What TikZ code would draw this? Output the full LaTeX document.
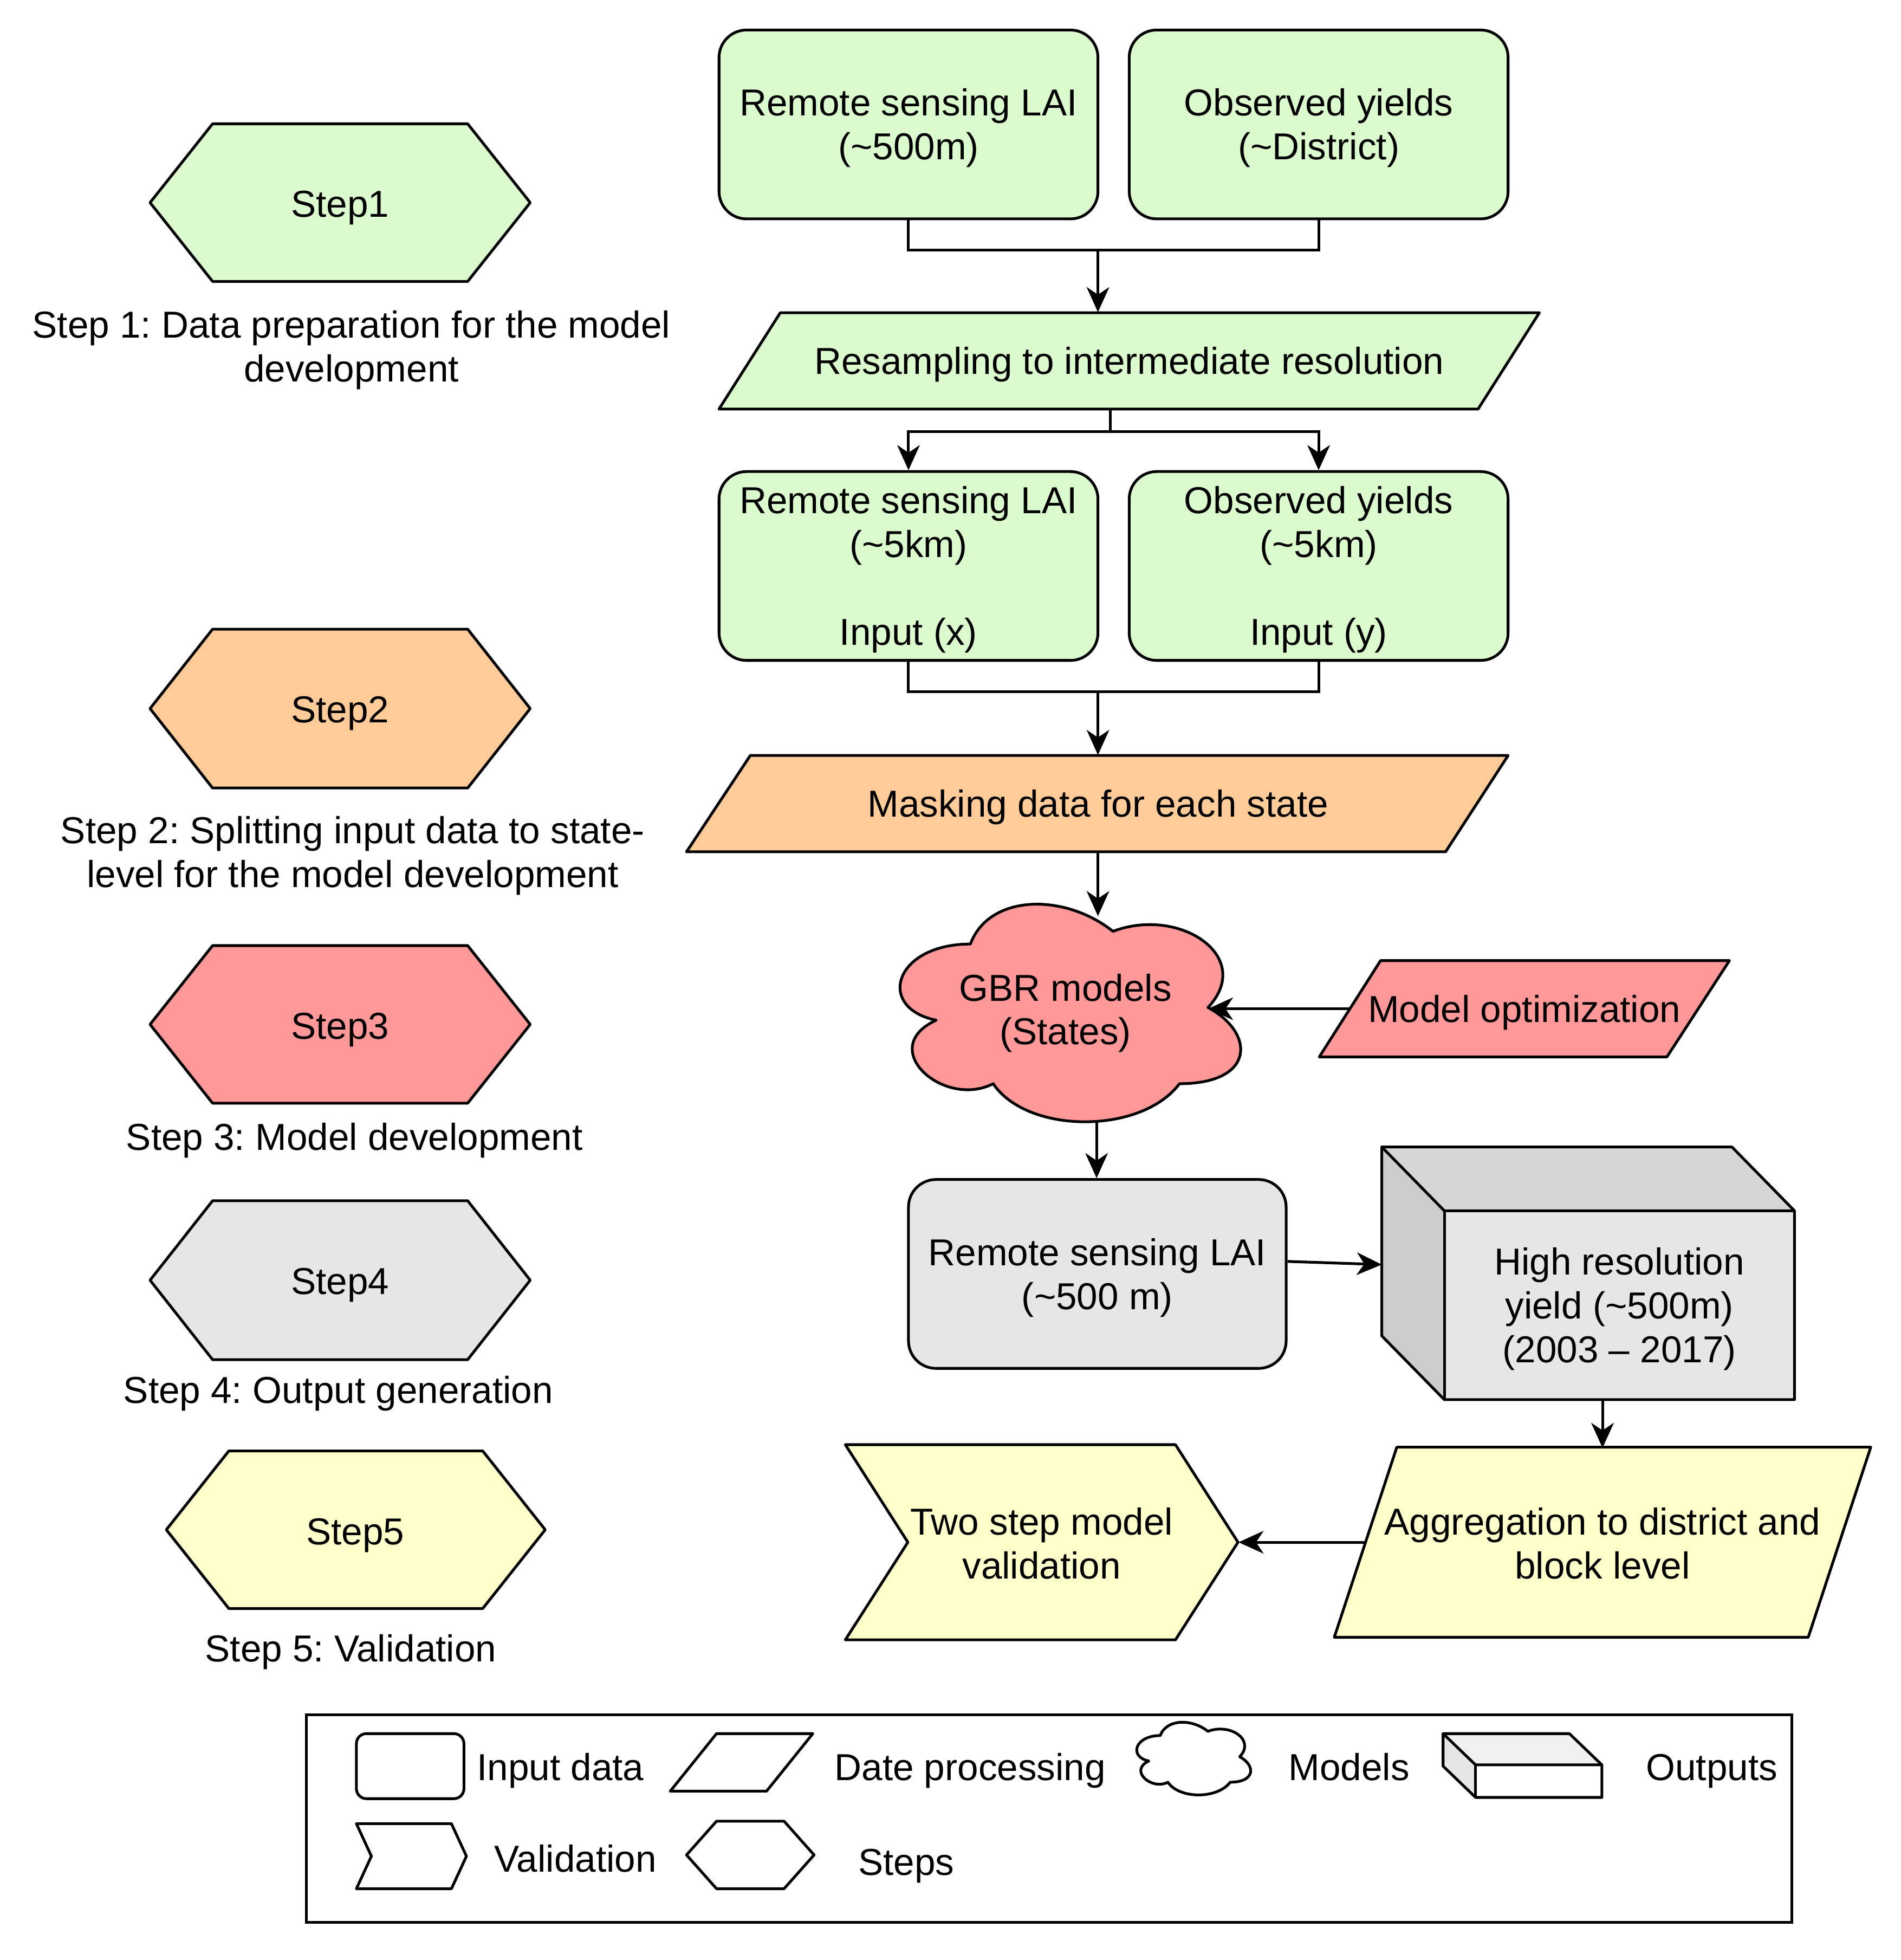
\documentclass[tikz,border=0pt]{standalone}
\usepackage{fontspec}
\setmainfont{Liberation Sans}
\usetikzlibrary{arrows.meta,calc}
\definecolor{cgreen}{HTML}{DBFACE}
\definecolor{corange}{HTML}{FFCC99}
\definecolor{cred}{HTML}{FF9999}
\definecolor{cgrey}{HTML}{E6E6E6}
\definecolor{cyellow}{HTML}{FFFFCC}
\definecolor{ctop}{HTML}{D6D6D6}
\definecolor{cside}{HTML}{CCCCCC}
\definecolor{ltop}{HTML}{F0F0F0}
\definecolor{lside}{HTML}{E6E6E6}
\newcommand{\tstrut}{\rule{0pt}{13.9pt}}
\begin{document}
\begin{tikzpicture}[x=0.5pt,y=-0.5pt,
  font=\fontsize{15}{17.5}\selectfont\frenchspacing,
  every node/.style={execute at begin node={\rule{0pt}{13.9pt}}, execute at end node={\rule[-3.2pt]{0pt}{3.2pt}}},
  shp/.style={draw=black, line width=1.1pt, line join=round},
  inbox/.style={draw=black, line width=1.1pt, rounded corners=11pt, minimum width=151.5pt, minimum height=75.5pt, align=center, inner sep=0pt},
  lbl/.style={align=center, inner sep=0pt},
  arr/.style={-{Stealth[length=10pt,width=9pt,inset=3pt]}, line width=1.1pt},
  ln/.style={line width=1.1pt},
]
\useasboundingbox (0,0) rectangle (1520,1567);
\fill[white] (0,0) rectangle (1520,1567);

% ---------- Step hexagons ----------
\draw[shp, fill=cgreen] (120,162) -- (170,99) -- (374,99) -- (424,162) -- (374,225) -- (170,225) -- cycle;
\node[lbl] (s1) at (272,163) {Step1};
\node[lbl] (l1) at (281,277) {\tstrut Step 1: Data preparation for the model\\development};

\draw[shp, fill=corange] (120,566.5) -- (170,503) -- (374,503) -- (424,566.5) -- (374,630) -- (170,630) -- cycle;
\node[lbl] (s2) at (272,567) {Step2};
\node[lbl] (l2) at (282,681) {\tstrut Step 2: Splitting input data to state-\\level for the model development};

\draw[shp, fill=cred] (120,819) -- (170,756) -- (374,756) -- (424,819) -- (374,882) -- (170,882) -- cycle;
\node[lbl] (s3) at (272,820) {Step3};
\node[lbl] (l3) at (283.5,909) {Step 3: Model development};

\draw[shp, fill=cgrey] (120,1023.5) -- (170,960) -- (374,960) -- (424,1023.5) -- (374,1087) -- (170,1087) -- cycle;
\node[lbl] (s4) at (272,1024) {Step4};
\node[lbl] (l4) at (270.5,1111) {Step 4: Output generation};

\draw[shp, fill=cyellow] (133,1223) -- (183,1160) -- (386,1160) -- (436,1223) -- (386,1286) -- (183,1286) -- cycle;
\node[lbl] (s5) at (284,1224) {Step5};
\node[lbl] (l5) at (280.5,1318) {Step 5: Validation};

% ---------- Flow ----------
\node[inbox, fill=cgreen] (lai1) at (726.5,99.5) {\tstrut Remote sensing LAI\\(\textasciitilde500m)};
\node[inbox, fill=cgreen] (obs1) at (1054.5,99.5) {\tstrut Observed yields\\(\textasciitilde District)};

\draw[shp, fill=cgreen] (575,327) -- (624,250) -- (1231,250) -- (1182,327) -- cycle;
\node[lbl, minimum width=328pt, minimum height=38.5pt] (resamp) at (903,288.5) {Resampling to intermediate resolution};

\node[inbox, fill=cgreen] (lai2) at (726.5,452.5) {\tstrut Remote sensing LAI\\(\textasciitilde5km)\\\mbox{}\\Input (x)};
\node[inbox, fill=cgreen] (obs2) at (1054.5,452.5) {\tstrut Observed yields\\(\textasciitilde5km)\\\mbox{}\\Input (y)};

\draw[shp, fill=corange] (549,681) -- (600,604) -- (1206,604) -- (1156,681) -- cycle;
\node[lbl, minimum width=328pt, minimum height=38.5pt] (mask) at (878,642.5) {Masking data for each state};

\begin{scope}[xshift=350pt, yshift=-352pt, x=152pt, y=-101.5pt]
\draw[shp, fill=cred] (0.25,0.25) .. controls (0.05,0.25) and (0,0.5) .. (0.16,0.55)
  .. controls (0,0.66) and (0.18,0.9) .. (0.31,0.8)
  .. controls (0.4,1) and (0.7,1) .. (0.8,0.8)
  .. controls (1,0.8) and (1,0.6) .. (0.875,0.5)
  .. controls (1,0.3) and (0.8,0.1) .. (0.625,0.2)
  .. controls (0.5,0.05) and (0.3,0.05) .. (0.25,0.25) -- cycle;
\coordinate (gbrtop) at (0.582,0.14);
\coordinate (gbrR) at (0.875,0.5);
\coordinate (gbrbot) at (0.582,0.948);
\end{scope}
\node[lbl] (gbr) at (852,807) {\tstrut GBR models\\(States)};

\draw[shp, fill=cred] (1055,845) -- (1104,768) -- (1383,768) -- (1333,845) -- cycle;
\node[lbl, minimum width=164pt, minimum height=38.5pt] (opt) at (1219,806.5) {Model optimization};
\coordinate (optL) at (1080,806.5);

\node[inbox, fill=cgrey, minimum width=151pt] (lai3) at (877.5,1018.5) {\tstrut Remote sensing LAI\\(\textasciitilde500 m)};

% cube
\fill[cgrey] (1155,968) rectangle (1435,1119);
\fill[ctop] (1105,917) -- (1385,917) -- (1435,968) -- (1155,968) -- cycle;
\fill[cside] (1105,917) -- (1155,968) -- (1155,1119) -- (1105,1068) -- cycle;
\draw[shp] (1105,917) -- (1385,917) -- (1435,968) -- (1435,1119) -- (1155,1119) -- (1105,1068) -- cycle;
\draw[shp] (1105,917) -- (1155,968) -- (1435,968);
\draw[shp] (1155,968) -- (1155,1119);
\node[lbl, minimum width=140pt, minimum height=75.5pt] (cube) at (1295,1043.5) {\tstrut High resolution\\yield (\textasciitilde500m)\\(2003 – 2017)};
\coordinate (cubeL) at (1105,1011);

\draw[shp, fill=cyellow] (1067,1309) -- (1117,1157) -- (1496,1157) -- (1446,1309) -- cycle;
\node[lbl, minimum width=214.5pt, minimum height=76pt] (agg) at (1281.5,1234) {\tstrut Aggregation to district and\\block level};
\coordinate (aggL) at (1092,1233);

\draw[shp, fill=cyellow] (676,1155) -- (940,1155) -- (990,1233) -- (940,1311) -- (676,1311) -- (726,1233) -- cycle;
\node[lbl, minimum width=157pt, minimum height=78pt] (val) at (833,1234) {\tstrut Two step model\\validation};

% ---------- Connectors ----------
\coordinate (j1) at (878,200);
\draw[ln] (lai1.south) |- (j1) -| (obs1.south);
\draw[arr] (j1) -- (j1 |- resamp.north);

\coordinate (j2) at (888,345);
\draw[ln] (j2 |- resamp.south) -- (j2);
\draw[arr] (j2) -| (lai2.north);
\draw[arr] (j2) -| (obs2.north);

\coordinate (j3) at (878,553);
\draw[ln] (lai2.south) |- (j3) -| (obs2.south);
\draw[arr] (j3) -- (j3 |- mask.north);

\draw[arr] (mask.south) -- (mask.south |- gbrtop);
\draw[arr] (optL) -- (optL -| gbrR);
\draw[arr] (gbrbot) -- (gbrbot |- lai3.north);
\draw[arr] ([yshift=5pt]lai3.east) -- (cubeL);
\draw[arr] (agg.north |- cube.south) -- (agg.north);
\draw[arr] (aggL) -- (aggL -| val.east);

% ---------- Legend ----------
\draw[ln] (245,1371) rectangle (1433,1537);

\draw[shp, fill=white, rounded corners=4pt] (285,1386) rectangle (371,1438);
\node[lbl, anchor=west] (tin) at (381,1412.5) {Input data};

\draw[shp, fill=white] (536,1432) -- (573,1386) -- (650,1386) -- (613,1432) -- cycle;
\node[lbl, anchor=west] (tdp) at (667,1412.5) {Date processing};

\begin{scope}[xshift=451.2pt, yshift=-685.3pt, x=50.85pt, y=-33.9pt]
\draw[shp, fill=white] (0.25,0.25) .. controls (0.05,0.25) and (0,0.5) .. (0.16,0.55)
  .. controls (0,0.66) and (0.18,0.9) .. (0.31,0.8)
  .. controls (0.4,1) and (0.7,1) .. (0.8,0.8)
  .. controls (1,0.8) and (1,0.6) .. (0.875,0.5)
  .. controls (1,0.3) and (0.8,0.1) .. (0.625,0.2)
  .. controls (0.5,0.05) and (0.3,0.05) .. (0.25,0.25) -- cycle;
\end{scope}
\node[lbl, anchor=west] (tmod) at (1030,1412.5) {Models};

\fill[white] (1180,1411) rectangle (1281,1437);
\fill[ltop] (1154,1386) -- (1255,1386) -- (1281,1411) -- (1180,1411) -- cycle;
\fill[lside] (1154,1386) -- (1180,1411) -- (1180,1437) -- (1154,1412) -- cycle;
\draw[shp] (1154,1386) -- (1255,1386) -- (1281,1411) -- (1281,1437) -- (1180,1437) -- (1154,1412) -- cycle;
\draw[shp] (1154,1386) -- (1180,1411) -- (1281,1411);
\draw[shp] (1180,1411) -- (1180,1437);
\node[lbl, anchor=west] (tout) at (1316,1412.5) {Outputs};

\draw[shp, fill=white] (285,1458) -- (361,1458) -- (373,1484) -- (361,1510) -- (285,1510) -- (297,1484) -- cycle;
\node[lbl, anchor=west] (tval) at (395,1486) {Validation};

\draw[shp, fill=white] (549,1483) -- (573,1456) -- (627,1456) -- (651,1483) -- (627,1510) -- (573,1510) -- cycle;
\node[lbl, anchor=west] (tst) at (686,1488.5) {Steps};
\end{tikzpicture}
\end{document}
